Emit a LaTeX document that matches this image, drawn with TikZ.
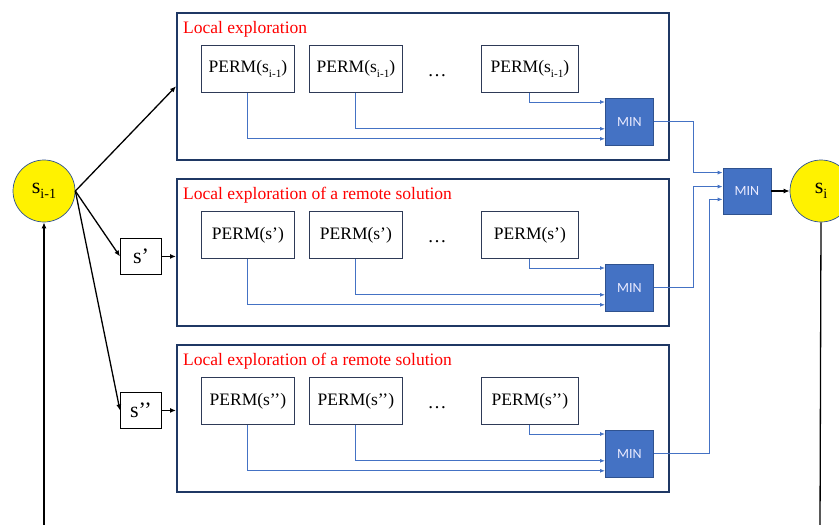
\documentclass[tikz,border=0pt]{standalone}
\usepackage{fontspec}
\setmainfont{Liberation Serif}
\newfontfamily\minfont{Carlito}
\usetikzlibrary{arrows.meta}
\definecolor{navy}{HTML}{1F3864}
\definecolor{permedge}{HTML}{2E3A57}
\definecolor{minfill}{HTML}{4472C4}
\definecolor{minedge}{HTML}{2F528F}
\definecolor{linkblue}{HTML}{4472C4}
\newcommand\lowsub[1]{\raisebox{-0.24em}{\scalebox{0.64}{#1}}}
\begin{document}
\begin{tikzpicture}[x=1pt,y=-1pt,
    panel/.style={draw=navy,line width=1.6pt,anchor=north west,inner sep=0pt,
        minimum width=492pt,minimum height=147pt},
    permbox/.style={draw=permedge,line width=0.8pt,fill=white,anchor=north west,
        inner sep=0pt,minimum height=47pt,font=\fontsize{17.5}{20}\selectfont},
    minbox/.style={draw=minedge,line width=0.8pt,fill=minfill,text=white!92!blue,
        inner sep=0pt,minimum width=48pt,minimum height=47pt,font=\minfont\fontsize{14}{16}\selectfont},
    sbox/.style={draw=black,line width=0.9pt,anchor=north west,inner sep=0pt,
        minimum width=41pt,minimum height=36pt,font=\fontsize{22}{24}\selectfont},
    sol/.style={circle,draw=minedge,line width=0.7pt,fill=yellow,minimum size=62pt,
        inner sep=0pt,font=\fontsize{22}{24}\selectfont},
    arr/.style={line width=1.3pt,-{Latex[length=6pt,width=5pt]}},
    link/.style={draw=linkblue,line width=0.9pt,-{Latex[length=5pt,width=4pt]}}]
    \clip (0,0) rectangle (839,525);

    % the three exploration panels
    \foreach \k/\yy/\lbl/\arg in {1/12/{Local exploration}/{s\lowsub{i-1}},
        2/178/{Local exploration of a remote solution}/{s’},
        3/344/{Local exploration of a remote solution}/{s’’}} {
        \node[panel] (pan\k) at (176,\yy) {};
        \node[anchor=base west,inner sep=0pt,text=red,font=\fontsize{17.5}{20}\selectfont]
            (lbl\k) at (183,\yy+21) {\lbl};
        \node[permbox,minimum width=93pt] (pa\k) at (201,\yy+33) {PERM(\arg)};
        \node[permbox,minimum width=93pt] (pb\k) at (309,\yy+33) {PERM(\arg)};
        \node[permbox,minimum width=97pt] (pc\k) at (481,\yy+33) {PERM(\arg)};
        \node[anchor=base,inner sep=0pt,font=\fontsize{19}{20}\selectfont] (dots\k) at (437,\yy+64) {…};
        \node[minbox,anchor=north west] (m\k) at (605,\yy+86) {MIN};
        \draw[link] (pc\k.south) |- ([yshift=-4pt]m\k.north west);
        \draw[link] (pb\k.south) |- ([yshift=17pt]m\k.south west);
        \draw[link] (pa\k.south) |- ([yshift=7pt]m\k.south west);
    }

    % final selection
    \node[minbox,minimum height=46pt] (mf) at (747,191) {MIN};
    \draw[link] (m1.east) -- ++(40,0) |- ([yshift=-5pt]mf.north west);
    \draw[link] (m2.east) -- ++(40,0) |- ([yshift=-19pt]mf.north west);
    \draw[link] (m3.east) -- ++(56,0) |- ([yshift=15pt]mf.south west);

    % solutions
    \node[sol] (si1) at (44,191) {s\lowsub{i-1}};
    \node[sol] (si) at (821,191) {s\lowsub{i}};
    \node[sbox] (sp) at (120,238) {s’};
    \node[sbox] (spp) at (120,392) {s’’};

    \draw[arr] (si1.east) -- (pan1.west);
    \draw[arr] (si1.east) -- (sp.west);
    \draw[arr] (si1.east) -- (spp.west);
    \draw[arr] (sp.east) -- (sp.east -| pan2.west);
    \draw[arr] (spp.east) -- (spp.east -| pan3.west);
    \draw[arr] (mf.east) -- (si.west);

    % feedback loop
    \coordinate (fbin) at (44,530);
    \coordinate (fbout) at (820,530);
    \draw[arr] (fbin) -- (si1.south);
    \draw[line width=1.3pt] (si.south) -- (fbout);
\end{tikzpicture}
\end{document}
